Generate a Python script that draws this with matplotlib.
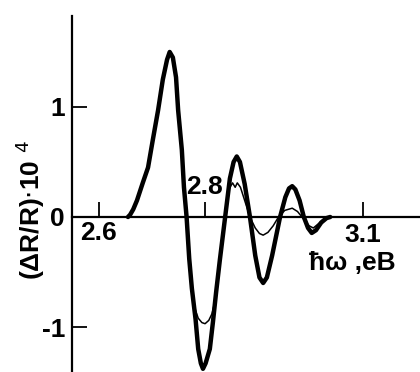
import matplotlib
matplotlib.use("Agg")
import matplotlib.pyplot as plt

# Thick curve (energy in eV, dR/R * 1e4)
thick_x = [2.655, 2.659, 2.665, 2.672, 2.683, 2.693, 2.702, 2.712, 2.721, 2.729,
           2.734, 2.740, 2.746, 2.750, 2.757, 2.761, 2.766, 2.771, 2.776, 2.783,
           2.788, 2.793, 2.797, 2.802, 2.810, 2.816, 2.822, 2.829, 2.839, 2.848,
           2.855, 2.861, 2.867, 2.876, 2.886, 2.896, 2.904, 2.911, 2.918, 2.928,
           2.943, 2.953, 2.960, 2.966, 2.972, 2.980, 2.988, 2.996, 3.003, 3.011,
           3.021, 3.031, 3.038]
thick_y = [0.00, 0.02, 0.07, 0.15, 0.31, 0.45, 0.70, 0.97, 1.25, 1.43,
           1.50, 1.45, 1.27, 0.97, 0.61, 0.27, 0.00, -0.38, -0.65, -0.93,
           -1.20, -1.33, -1.38, -1.33, -1.20, -0.95, -0.68, -0.39, 0.00, 0.35,
           0.50, 0.55, 0.50, 0.30, 0.00, -0.35, -0.55, -0.60, -0.55, -0.35,
           0.00, 0.18, 0.26, 0.28, 0.25, 0.15, 0.00, -0.10, -0.145, -0.12,
           -0.05, -0.01, 0.00]

# Thin curve
thin_x = [2.655, 2.659, 2.665, 2.672, 2.683, 2.693, 2.702, 2.712, 2.721, 2.729,
          2.734, 2.740, 2.746, 2.750, 2.757, 2.761, 2.766, 2.771, 2.776, 2.781,
          2.788, 2.795, 2.801, 2.808, 2.814, 2.818, 2.822, 2.829, 2.839, 2.846,
          2.853, 2.858, 2.862, 2.868, 2.876, 2.886, 2.896, 2.904, 2.911, 2.920,
          2.930, 2.940, 2.952, 2.966, 2.976, 2.988, 2.998, 3.006, 3.016, 3.026,
          3.036]
thin_y = [0.00, 0.02, 0.07, 0.15, 0.31, 0.45, 0.70, 0.97, 1.25, 1.43,
          1.50, 1.45, 1.27, 0.97, 0.61, 0.27, 0.00, -0.38, -0.65, -0.82,
          -0.92, -0.96, -0.97, -0.94, -0.88, -0.80, -0.68, -0.39, 0.00, 0.25,
          0.31, 0.27, 0.31, 0.27, 0.15, 0.00, -0.10, -0.15, -0.165, -0.14,
          -0.08, 0.00, 0.06, 0.08, 0.05, -0.02, -0.08, -0.10, -0.06, -0.02,
          0.00]

x_ticks = [2.6, 2.8, 3.1]
y_ticks = [-1, 0, 1]
y_ticklabels = ["-1", "0", "1"]

FAM = ["Liberation Sans", "DejaVu Sans"]

fig = plt.figure(figsize=(4.2, 3.72), dpi=100)
ax = fig.add_axes([72 / 420, 0.0, (420 - 72) / 420, (372 - 16) / 372])
ax.set_xlim(2.549, 3.208)
ax.set_ylim(-1.409, 1.827)

ax.plot(thick_x, thick_y, color="black", lw=3.2, solid_joinstyle="round", solid_capstyle="round")
ax.plot(thin_x, thin_y, color="black", lw=1.1, solid_joinstyle="round")

for s in ["top", "right"]:
    ax.spines[s].set_visible(False)
ax.spines["bottom"].set_position(("data", 0))
ax.spines["bottom"].set_linewidth(1.6)
ax.spines["left"].set_linewidth(1.6)

ax.set_xticks(x_ticks)
ax.set_xticklabels([])
ax.tick_params(axis="x", direction="in", length=11, width=1.3)
ax.set_yticks(y_ticks)
ax.set_yticklabels(y_ticklabels, fontsize=19, fontweight="bold", family=FAM)
ax.tick_params(axis="y", direction="in", length=11, width=1.3, pad=5)

tk = dict(fontsize=19, fontweight="bold", family=FAM, ha="center", va="center")
ax.text(2.6, -0.145, "2.6", **tk)
ax.text(2.80, 0.27, "2.8", **tk)
ax.text(3.1, -0.16, "3.1", **tk)
ax.text(3.079, -0.42, "ħω ,eB", **dict(tk, fontsize=19))

fig.text(30 / 420, 1 - 210 / 372, r"(ΔR/R)$\cdot$10 $^{4}$", rotation=90,
         fontsize=19, fontweight="bold", family=FAM, ha="center", va="center")

fig.savefig("out.png", dpi=100)
